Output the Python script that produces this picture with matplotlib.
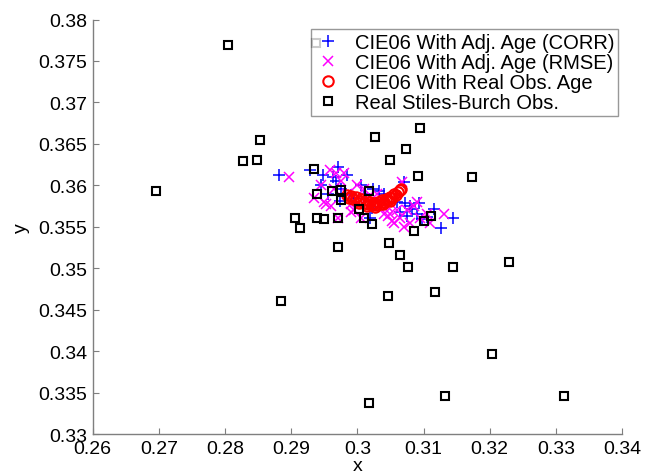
import matplotlib
matplotlib.use("Agg")
import matplotlib.pyplot as plt
from matplotlib.ticker import FixedLocator, FuncFormatter

plt.rcParams['font.family'] = ['Liberation Sans', 'DejaVu Sans']

# CIE06 with adjusted age (CORR)
corr_x = [0.2881, 0.2928, 0.2948, 0.2971, 0.2963, 0.2984, 0.2976, 0.2973, 0.2955, 0.2990,
          0.3006, 0.3024, 0.3032, 0.3019, 0.3022, 0.3010, 0.3040, 0.3070, 0.3072, 0.3083,
          0.3075, 0.3093, 0.3098, 0.3116, 0.3126, 0.3144, 0.3080, 0.3065, 0.3090, 0.3060,
          0.3105, 0.2945, 0.2968, 0.2995]
corr_y = [0.3612, 0.3618, 0.3612, 0.3622, 0.3610, 0.3612, 0.3596, 0.3581, 0.3590, 0.3588,
          0.3600, 0.3596, 0.3593, 0.3561, 0.3573, 0.3590, 0.3590, 0.3604, 0.3579, 0.3571,
          0.3563, 0.3579, 0.3559, 0.3571, 0.3549, 0.3561, 0.3575, 0.3568, 0.3565, 0.3580,
          0.3562, 0.3600, 0.3605, 0.3585]

# CIE06 with adjusted age (RMSE)
rmse_x = [0.2897, 0.2958, 0.2945, 0.2965, 0.2975, 0.2985, 0.2950, 0.2960, 0.2970, 0.2990,
          0.3000, 0.3010, 0.3015, 0.3030, 0.3045, 0.3068, 0.3050, 0.3055, 0.3060, 0.3065,
          0.3075, 0.3085, 0.3095, 0.3105, 0.3110, 0.3131, 0.3070, 0.3080, 0.3090, 0.2980,
          0.2995, 0.3005, 0.2935, 0.2968, 0.3040, 0.2953, 0.2991, 0.3047, 0.3052]
rmse_y = [0.3610, 0.3618, 0.3600, 0.3595, 0.3605, 0.3590, 0.3580, 0.3575, 0.3560, 0.3578,
          0.3600, 0.3595, 0.3585, 0.3590, 0.3575, 0.3604, 0.3565, 0.3555, 0.3570, 0.3560,
          0.3570, 0.3575, 0.3560, 0.3565, 0.3555, 0.3565, 0.3550, 0.3555, 0.3580, 0.3615,
          0.3570, 0.3560, 0.3585, 0.3615, 0.3565, 0.3577, 0.3568, 0.3563, 0.3557]

# CIE06 with real observer age
real_x = [0.2984, 0.2987, 0.2990, 0.2994, 0.2998, 0.3002, 0.3006, 0.3010, 0.3013, 0.3016,
          0.3019, 0.3022, 0.3025, 0.3028, 0.3031, 0.3034, 0.3037, 0.3040, 0.3043, 0.3046,
          0.3049, 0.3052, 0.3055, 0.3058, 0.3061, 0.3064, 0.3066, 0.3003, 0.3015, 0.3027,
          0.3039, 0.3050]
real_y = [0.3588, 0.3585, 0.3587, 0.3583, 0.3586, 0.3581, 0.3584, 0.3579, 0.3582, 0.3577,
          0.3580, 0.3576, 0.3579, 0.3576, 0.3580, 0.3577, 0.3582, 0.3580, 0.3584, 0.3582,
          0.3586, 0.3585, 0.3589, 0.3588, 0.3592, 0.3594, 0.3595, 0.3579, 0.3575, 0.3574,
          0.3577, 0.3581]

# Real Stiles-Burch observers
sb_x = [0.2804, 0.2938, 0.2853, 0.2827, 0.2848, 0.2695, 0.2934, 0.3095, 0.3027, 0.3073,
        0.3049, 0.3092, 0.3173, 0.2939, 0.2961, 0.2976, 0.2975, 0.3017, 0.3003, 0.3010,
        0.3022, 0.2906, 0.2913, 0.2939, 0.2949, 0.2970, 0.2971, 0.3048, 0.3065, 0.3076,
        0.3144, 0.3229, 0.3046, 0.3118, 0.3204, 0.3018, 0.3133, 0.3313, 0.2884, 0.3086,
        0.3101, 0.3112]
sb_y = [0.3769, 0.3772, 0.3655, 0.3629, 0.3631, 0.3593, 0.3620, 0.3669, 0.3658, 0.3644,
        0.3630, 0.3611, 0.3610, 0.3590, 0.3593, 0.3594, 0.3582, 0.3593, 0.3571, 0.3561,
        0.3553, 0.3561, 0.3549, 0.3560, 0.3559, 0.3560, 0.3525, 0.3530, 0.3516, 0.3501,
        0.3502, 0.3507, 0.3467, 0.3471, 0.3397, 0.3338, 0.3346, 0.3346, 0.3461, 0.3545,
        0.3557, 0.3563]

xticks = [0.26, 0.27, 0.28, 0.29, 0.30, 0.31, 0.32, 0.33, 0.34]
yticks = [0.33, 0.335, 0.34, 0.345, 0.35, 0.355, 0.36, 0.365, 0.37, 0.375, 0.38]

fig = plt.figure(figsize=(6.5, 4.77), dpi=100)
ax = fig.add_axes([0.1426, 0.088, 0.957 - 0.1426, 0.957 - 0.088])

ax.plot(corr_x, corr_y, linestyle='none', marker='+', color='#0000ff',
        markersize=9, markeredgewidth=1.1, label='CIE06 With Adj. Age (CORR)')
ax.plot(rmse_x, rmse_y, linestyle='none', marker='x', color='#ff00ff',
        markersize=7.5, markeredgewidth=1.1, label='CIE06 With Adj. Age (RMSE)')
ax.plot(real_x, real_y, linestyle='none', marker='o', markerfacecolor='none',
        markeredgecolor='#ff0000', markersize=7.5, markeredgewidth=1.5,
        label='CIE06 With Real Obs. Age')
ax.plot(sb_x, sb_y, linestyle='none', marker='s', markerfacecolor='none',
        markeredgecolor='#000000', markersize=6, markeredgewidth=1.5,
        label='Real Stiles-Burch Obs.')

ax.set_xlim(0.26, 0.34)
ax.set_ylim(0.33, 0.38)
ax.xaxis.set_major_locator(FixedLocator(xticks))
ax.yaxis.set_major_locator(FixedLocator(yticks))
fmt = FuncFormatter(lambda v, p: ('%g' % round(v, 4)))
ax.xaxis.set_major_formatter(fmt)
ax.yaxis.set_major_formatter(fmt)

for s in ['top', 'right']:
    ax.spines[s].set_visible(False)
for s in ['left', 'bottom']:
    ax.spines[s].set_color('#7f7f7f')
    ax.spines[s].set_linewidth(1.0)
ax.tick_params(direction='in', length=4, color='#7f7f7f', labelsize=14,
               labelcolor='black')
ax.tick_params(axis='x', pad=4)
ax.tick_params(axis='y', pad=4)

ax.set_xlabel('x', fontsize=14, labelpad=0)
ax.set_ylabel('y', fontsize=14, labelpad=6)

leg = ax.legend(loc='upper right', bbox_to_anchor=(0.993, 0.978), fontsize=14.5,
                frameon=True, fancybox=False, borderpad=0.2, labelspacing=0.05,
                handlelength=1.3, handletextpad=0.7, borderaxespad=0.0)
leg.get_frame().set_edgecolor('#7f7f7f')
leg.get_frame().set_linewidth(1.0)

fig.savefig('out.png', dpi=100)
